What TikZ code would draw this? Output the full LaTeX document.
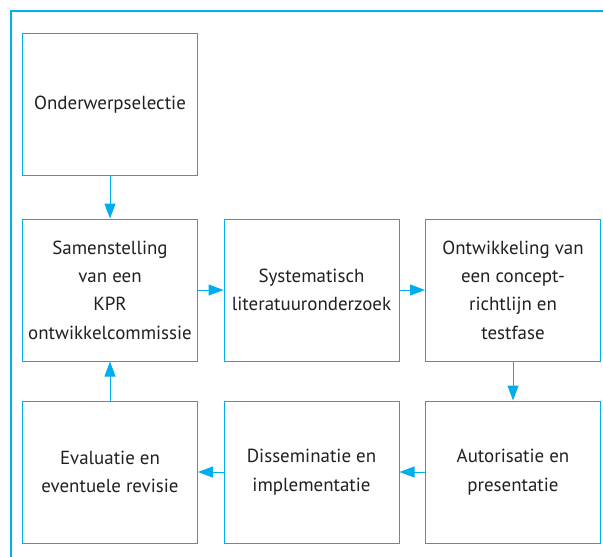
\documentclass[tikz,border=0pt]{standalone}
\usepackage{fontspec}
\setmainfont{PT Sans}
\usepackage{tikz}
\usetikzlibrary{arrows.meta,positioning}
\definecolor{kprblue}{HTML}{00AEEF}
\definecolor{kprtext}{HTML}{231F20}

\begin{document}
\begin{tikzpicture}[x=1bp,y=-1bp,every path/.style={line width=1bp}]
  \tikzstyle{stap} = [draw=kprblue,text=kprtext,minimum width=175bp,minimum height=142bp,align=center,inner sep=2bp,font=\fontsize{19}{28.5}\selectfont];
  \tikzset{pijl/.style={draw=kprblue,-{Triangle[length=15bp,width=11bp]}}};
  \useasboundingbox (0,0) rectangle (603,557);
  \draw[kprblue,line width=1.3bp] (11,557) -- (11,11) -- (603,11);
  \node[stap] (onderwerp) at (110,104.5) {Onderwerpselectie};
  \node[stap,below=42.5bp of onderwerp] (commissie) {Samenstelling\\van een\\KPR\\ontwikkelcommissie};
  \node[stap,right=25.5bp of commissie] (literatuur) {Systematisch\\literatuuronderzoek};
  \node[stap,right=25.5bp of literatuur] (concept) {Ontwikkeling van\\een concept-\\richtlijn en\\testfase};
  \node[stap,below=39bp of concept] (autorisatie) {Autorisatie en\\presentatie};
  \node[stap,below=39bp of literatuur] (implementatie) {Disseminatie en\\implementatie};
  \node[stap,below=39bp of commissie] (evaluatie) {Evaluatie en\\eventuele revisie};
  \draw[pijl] (onderwerp) -- (commissie);
  \draw[pijl] (commissie) -- (literatuur);
  \draw[pijl] (literatuur) -- (concept);
  \draw[pijl] (concept) -- (autorisatie);
  \draw[pijl] (autorisatie) -- (implementatie);
  \draw[pijl] (implementatie) -- (evaluatie);
  \draw[pijl] (evaluatie) -- (commissie);
\end{tikzpicture}
\end{document}
